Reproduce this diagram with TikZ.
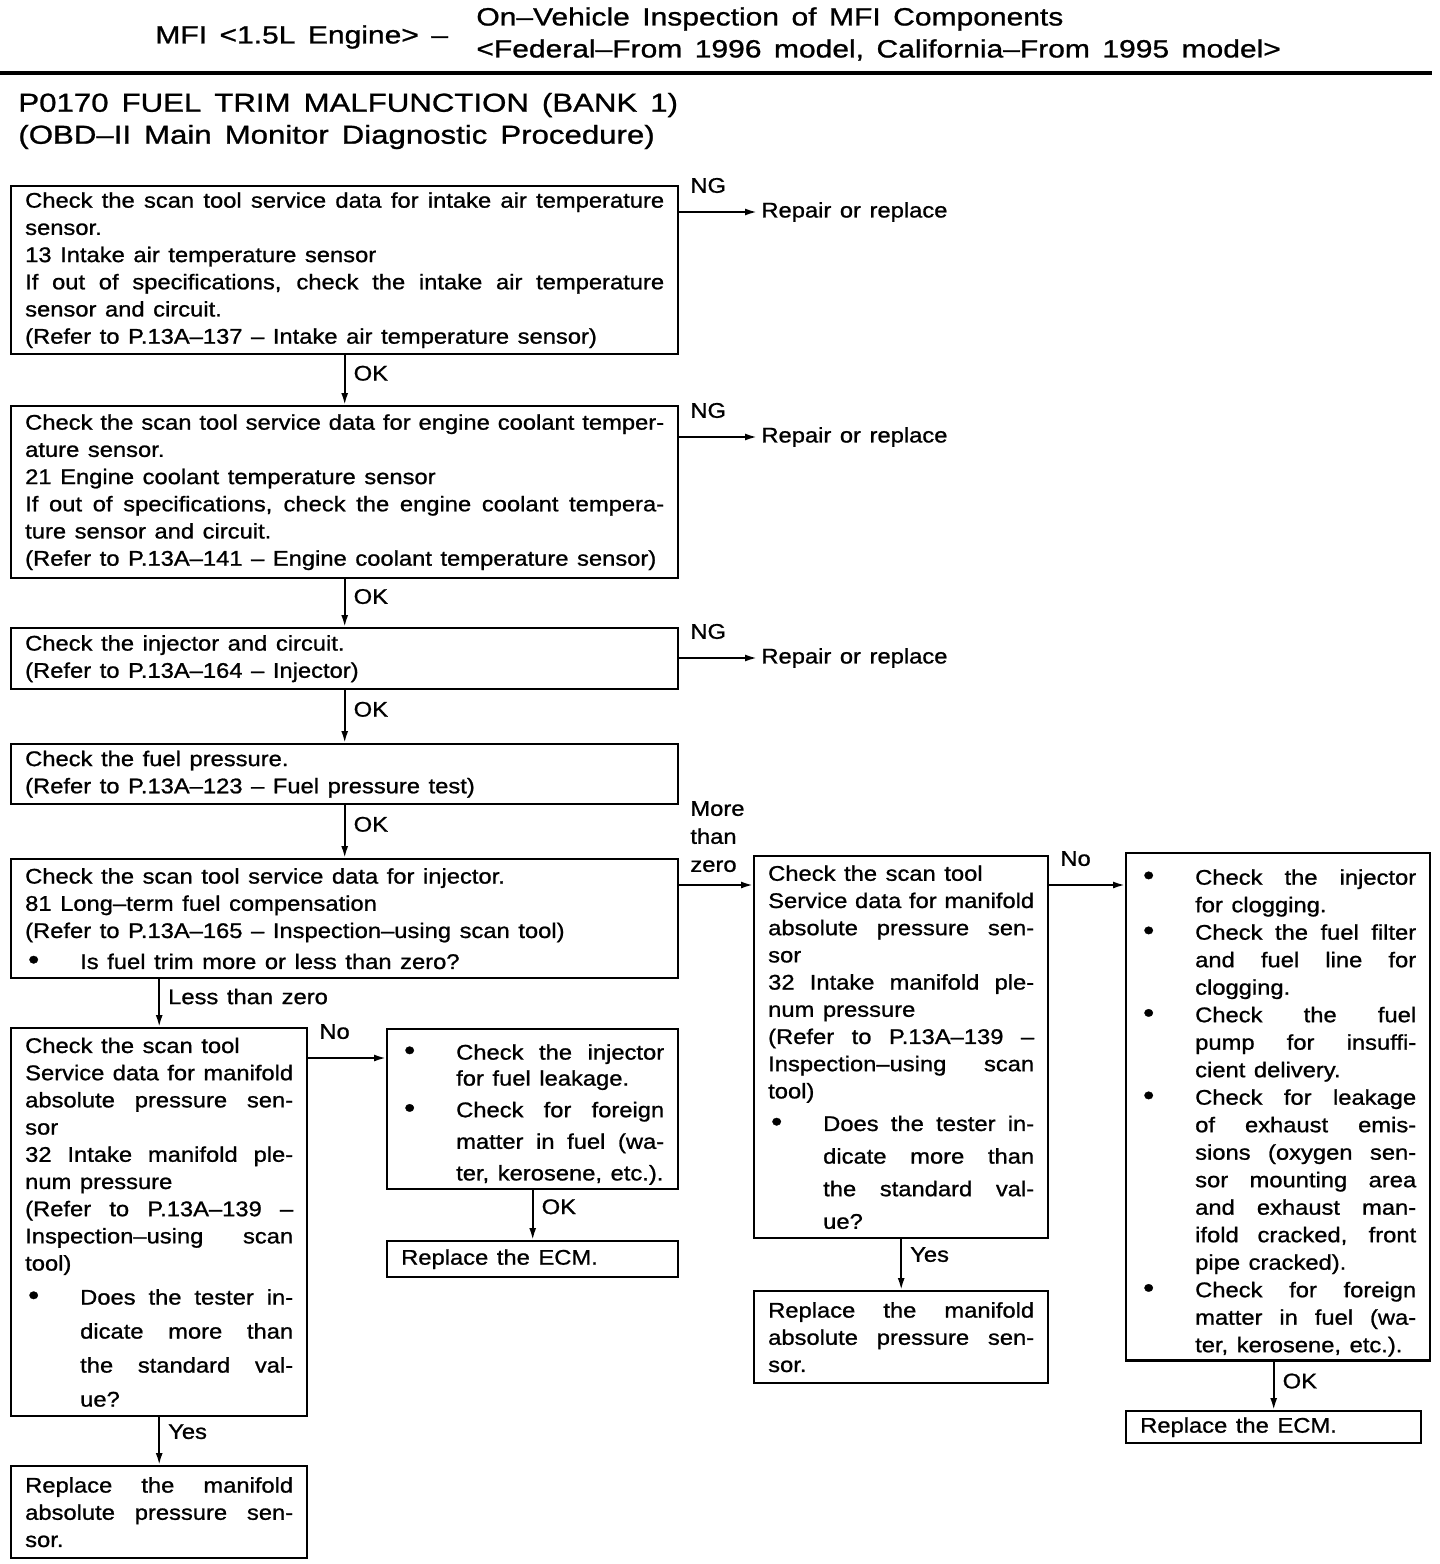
\documentclass[tikz,border=0pt]{standalone}
\usepackage{fontspec}
\setmainfont{Liberation Sans}[FakeStretch=1.12, WordSpace=1.3, FakeBold=1]
\newfontfamily\hdrfont{Liberation Sans}[FakeStretch=1.2, WordSpace=2.3, FakeBold=1]
\newfontfamily\ttlfont{Liberation Sans}[FakeStretch=1.2, WordSpace=1.5, FakeBold=1]
\usepackage{tikz}
\usetikzlibrary{arrows.meta}

\setlength{\parindent}{0pt}
\hyphenpenalty=10000
\tolerance=9999
\newlength{\bulind}
\setlength{\bulind}{27.5pt}
% bullet paragraph, hanging indent (optional arg: line spacing)
\newcommand{\bitem}[2][13.75pt]{\par\baselineskip=#1\relax
  \hangindent=\bulind\hangafter=1\noindent
  \hbox to\bulind{\hspace{1.5pt}{\fontsize{14}{14}\selectfont\textbullet}\hss}#2\par}

\begin{document}
\begin{tikzpicture}[x=0.5pt, y=-0.5pt,
    chkbox/.style={draw, line width=1.2pt, anchor=north west, inner xsep=7pt,
      inner ysep=2pt, align=justify, font=\fontsize{10.6}{13.6}\selectfont},
    lbl/.style={inner sep=2pt, align=left, font=\fontsize{10.6}{14}\selectfont},
    arr/.style={line width=1pt, -{Latex[length=6pt,width=3.5pt]}}]
    \useasboundingbox (0,0) rectangle (1440,1564);

    % Page header
    \node[anchor=west, inner sep=0pt, font=\hdrfont\fontsize{12.5}{16}\selectfont]
        (hdrl) at (155,37) {MFI <1.5L Engine> –};
    \node[anchor=west, inner sep=0pt, align=left, font=\hdrfont\fontsize{12.5}{16}\selectfont]
        (hdrr) at (476,34) {On–Vehicle Inspection of MFI Components\\<Federal–From 1996 model, California–From 1995 model>};
    \draw[line width=1.6pt] (0,73) -- (1432,73);

    % Title
    \node[anchor=west, inner sep=0pt, align=left, font=\ttlfont\fontsize{13}{16}\selectfont]
        (ttl) at (18,121) {P0170 FUEL TRIM MALFUNCTION (BANK 1)\\(OBD–II Main Monitor Diagnostic Procedure)};

    % Main column of checks
    \node[chkbox, text width=319.5pt, minimum height=84pt] (b1) at (10,185)
        {Check the scan tool service data for intake air temperature\linebreak sensor.\\13 Intake air temperature sensor\\If out of specifications, check the intake air temperature\linebreak sensor and circuit.\\(Refer to P.13A–137 – Intake air temperature sensor)};
    \node[chkbox, text width=319.5pt, minimum height=86pt] (b2) at (10,405)
        {Check the scan tool service data for engine coolant temper-\linebreak ature sensor.\\21 Engine coolant temperature sensor\\If out of specifications, check the engine coolant tempera-\linebreak ture sensor and circuit.\\(Refer to P.13A–141 – Engine coolant temperature sensor)};
    \node[chkbox, text width=319.5pt, minimum height=30.5pt] (b3) at (10,627)
        {Check the injector and circuit.\\(Refer to P.13A–164 – Injector)};
    \node[chkbox, text width=319.5pt, minimum height=30pt] (b4) at (10,743)
        {Check the fuel pressure.\\(Refer to P.13A–123 – Fuel pressure test)};
    \node[chkbox, text width=319.5pt, minimum height=59.5pt] (b5) at (10,858)
        {Check the scan tool service data for injector.\\81 Long–term fuel compensation\\(Refer to P.13A–165 – Inspection–using scan tool)\bitem[15.5pt]{Is fuel trim more or less than zero?}};

    % NG branches
    \node[lbl, anchor=west] (r1) at (757,212) {Repair or replace};
    \node[lbl, anchor=west] (r2) at (757,437) {Repair or replace};
    \node[lbl, anchor=west] (r3) at (757,658) {Repair or replace};
    \foreach \i in {1,2,3} {
        \draw[arr] (b\i.east |- r\i.west) -- (r\i.west)
            node[lbl, pos=0, anchor=south west, xshift=3pt, yshift=7pt] {NG};
    }
    \foreach \i/\j in {1/2,2/3,3/4,4/5} {
        \draw[arr] (b\i.south) -- (b\j.north) node[lbl, right=2pt, pos=.36] {OK};
    }

    % More than zero branch
    \node[chkbox, text width=133pt, minimum height=191pt] (b6) at (753,855)
        {Check the scan tool\\Service data for manifold\linebreak absolute pressure sen-\linebreak sor\\32 Intake manifold ple-\linebreak num pressure\\(Refer to P.13A–139 –\linebreak Inspection–using scan\linebreak tool)\bitem[16.3pt]{Does the tester in-\linebreak dicate more than\linebreak the standard val-\linebreak ue?}};
    \node[chkbox, text width=138pt, minimum height=252.5pt] (b7) at (1125,852)
        {\bitem{Check the injector\linebreak for clogging.}\bitem{Check the fuel filter\linebreak and fuel line for\linebreak clogging.}\bitem{Check the fuel\linebreak pump for insuffi-\linebreak cient delivery.}\bitem{Check for leakage\linebreak of exhaust emis-\linebreak sions (oxygen sen-\linebreak sor mounting area\linebreak and exhaust man-\linebreak ifold cracked, front\linebreak pipe cracked).}\bitem{Check for foreign\linebreak matter in fuel (wa-\linebreak ter, kerosene, etc.).}};
    \node[chkbox, text width=133.5pt, minimum height=16pt] (b8) at (1125,1410)
        {Replace the ECM.};
    \node[chkbox, text width=133pt, minimum height=46pt] (b9) at (753,1290)
        {Replace the manifold\linebreak absolute pressure sen-\linebreak sor.};

    % Less than zero branch
    \node[chkbox, text width=134pt, minimum height=194pt] (b10) at (10,1027)
        {Check the scan tool\\Service data for manifold\linebreak absolute pressure sen-\linebreak sor\\32 Intake manifold ple-\linebreak num pressure\\(Refer to P.13A–139 –\linebreak Inspection–using scan\linebreak tool)\bitem[17pt]{Does the tester in-\linebreak dicate more than\linebreak the standard val-\linebreak ue?}};
    \node[chkbox, text width=131.5pt, minimum height=80pt] (b11) at (386,1028)
        {\bitem[13pt]{Check the injector\linebreak for fuel leakage.}\bitem[15.8pt]{Check for foreign\linebreak matter in fuel (wa-\linebreak ter, kerosene, etc.).}};
    \node[chkbox, text width=131.5pt, minimum height=18pt] (b12) at (386,1240)
        {Replace the ECM.};
    \node[chkbox, text width=134pt, minimum height=46pt] (b13) at (10,1465)
        {Replace the manifold\linebreak absolute pressure sen-\linebreak sor.};

    % Connectors of the lower part
    \coordinate (m5) at ([yshift=-13.5pt]b5.north east);
    \draw[arr] (m5) -- (m5 -| b6.west)
        node[lbl, pos=0, anchor=south west, xshift=3pt, yshift=4pt] {More\\than\\zero};
    \coordinate (m6) at ([yshift=-15pt]b6.north east);
    \draw[arr] (m6) -- (m6 -| b7.west)
        node[lbl, pos=0, anchor=south west, xshift=3pt, yshift=7pt] {No};
    \coordinate (m10) at ([yshift=-15.5pt]b10.north east);
    \draw[arr] (m10) -- (m10 -| b11.west)
        node[lbl, pos=0, anchor=south west, xshift=3pt, yshift=7pt] {No};
    \draw[arr] (b5.south -| b10.north) -- (b10.north)
        node[lbl, right=2pt, pos=.36] {Less than zero};
    \draw[arr] (b6.south) -- (b9.north) node[lbl, right=2pt, pos=.3] {Yes};
    \draw[arr] (b10.south) -- (b13.north) node[lbl, right=2pt, pos=.3] {Yes};
    \draw[arr] (b11.south) -- (b12.north) node[lbl, right=2pt, pos=.33] {OK};
    \draw[arr] (b7.south -| b8.north) -- (b8.north) node[lbl, right=2pt, pos=.4] {OK};
\end{tikzpicture}
\end{document}
